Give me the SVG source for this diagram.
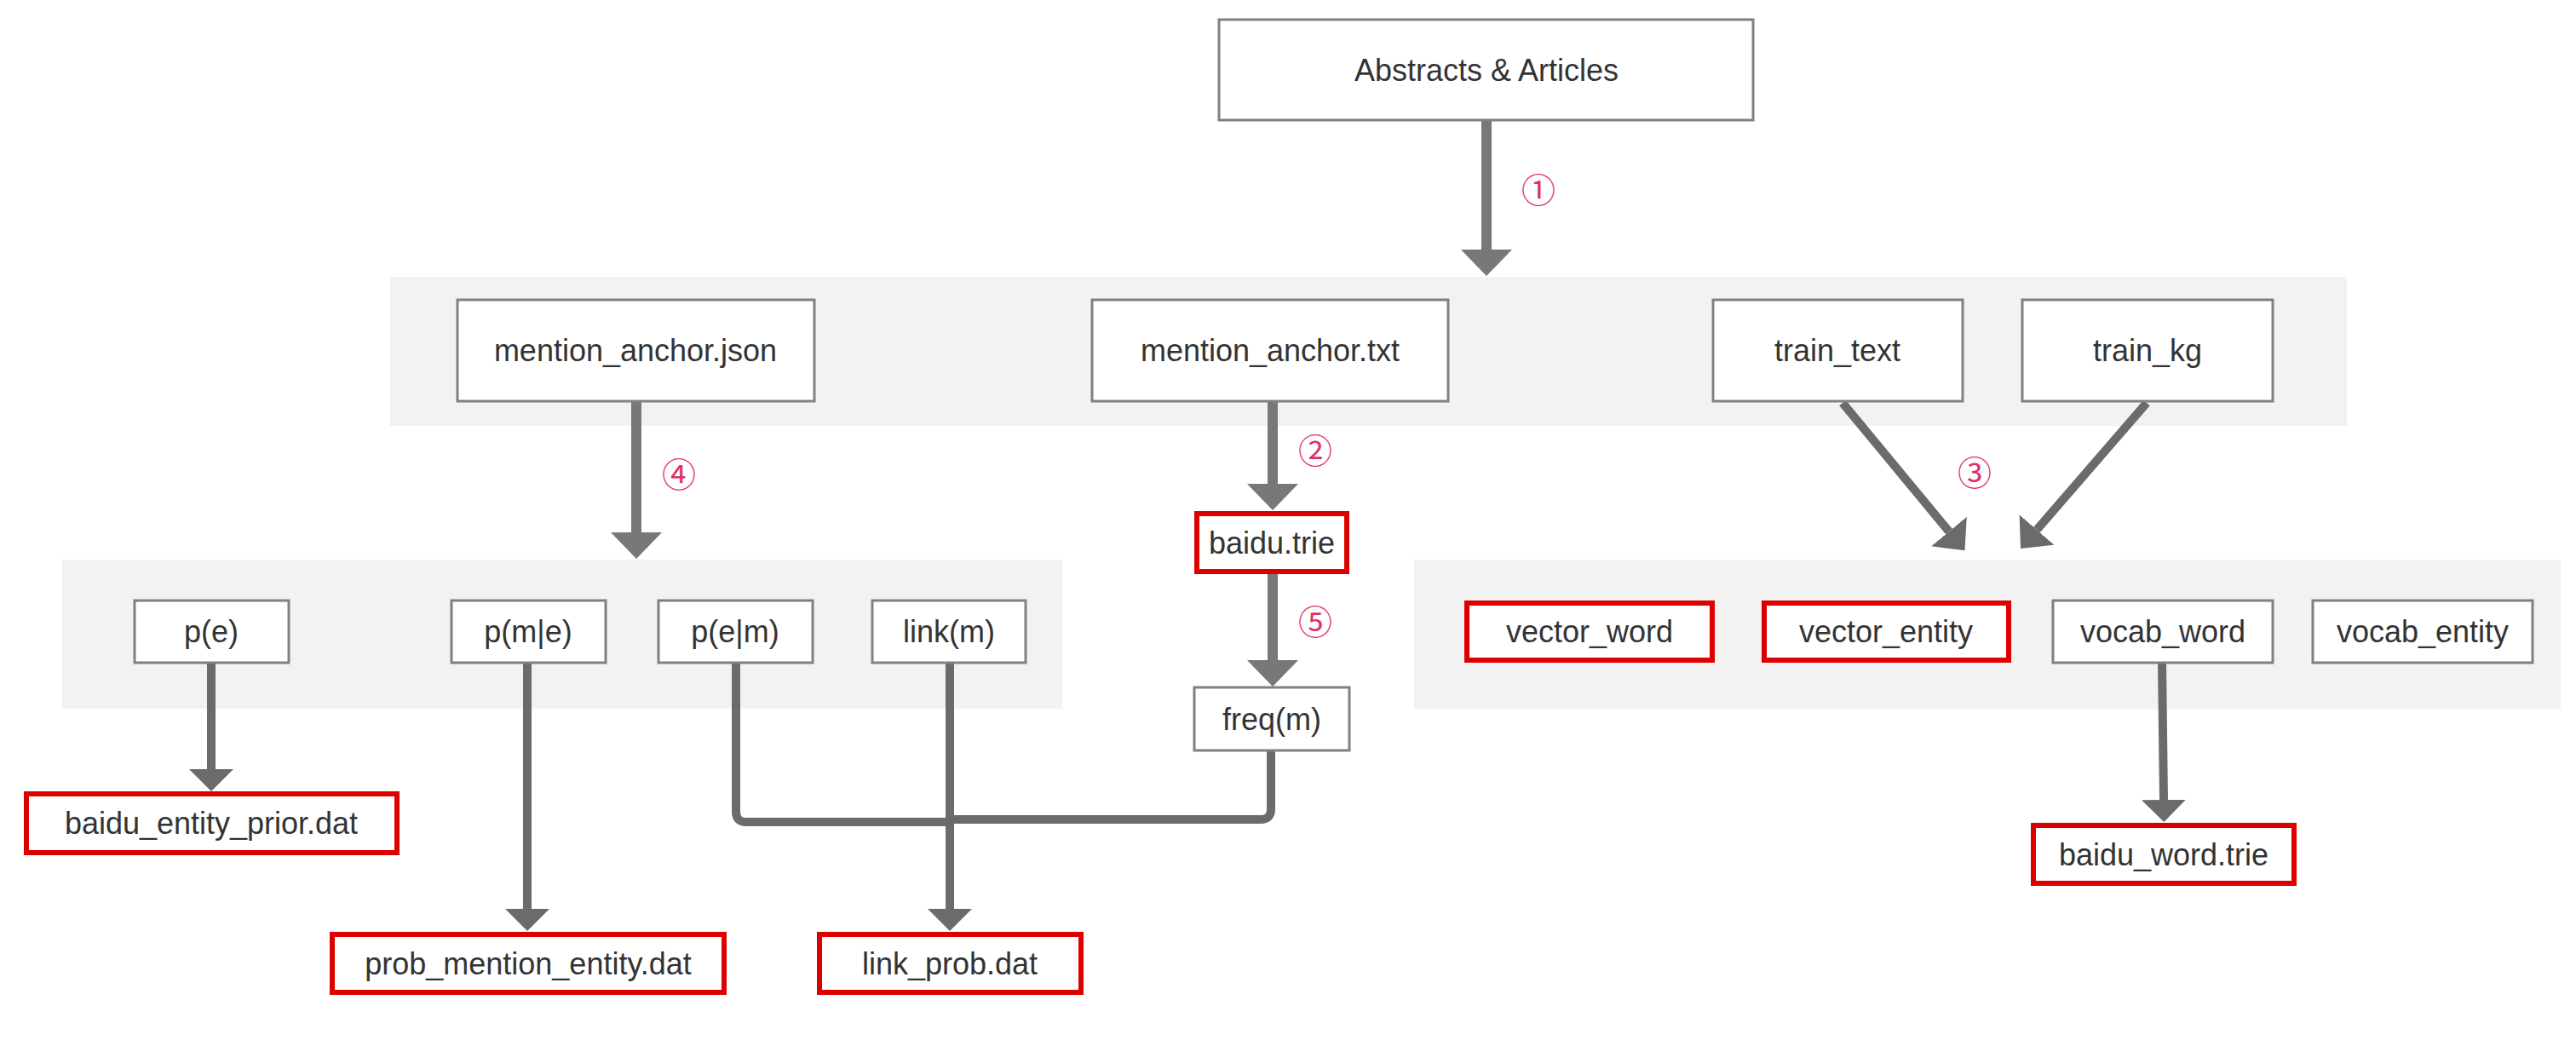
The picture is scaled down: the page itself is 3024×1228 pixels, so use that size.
<svg xmlns="http://www.w3.org/2000/svg" width="3024" height="1228" viewBox="0 0 3024 1228">
<style>
.grp{fill:#f2f2f2}
.box{fill:#fff;stroke:#808080;stroke-width:3}
.red{fill:#fff;stroke:#dd0000;stroke-width:6}
.t{font-family:"Liberation Sans",Arial,sans-serif;font-size:36px;fill:#333;text-anchor:middle;dominant-baseline:central}
.num{font-family:"Noto Sans CJK SC","DejaVu Sans",sans-serif;font-size:40px;fill:#e0306a;text-anchor:middle;dominant-baseline:central}
.thick{fill:none;stroke:#787878;stroke-width:12}
.thin{fill:none;stroke:#6b6b6b;stroke-width:10;stroke-linejoin:round}
</style>
<defs>
<marker id="ah1" markerUnits="userSpaceOnUse" viewBox="0 0 31 60" refX="0" refY="30" markerWidth="31" markerHeight="60" orient="auto"><path d="M0,0 L31,30 L0,60 z" fill="#787878"/></marker>
<marker id="ah2" markerUnits="userSpaceOnUse" viewBox="0 0 26 52" refX="0" refY="26" markerWidth="26" markerHeight="52" orient="auto"><path d="M0,0 L26,26 L0,52 z" fill="#6b6b6b"/></marker>
<marker id="ah3" markerUnits="userSpaceOnUse" viewBox="0 0 29 54" refX="0" refY="27" markerWidth="29" markerHeight="54" orient="auto"><path d="M0,0 L29,27 L0,54 z" fill="#6b6b6b"/></marker>
</defs>

<g id="groups">
<rect class="grp" x="458" y="325" width="2297" height="175"/>
<rect class="grp" x="73" y="657" width="1174" height="175"/>
<rect class="grp" x="1660" y="657" width="1346" height="176"/>
</g>

<g id="connectors">
<path class="thick" d="M1745 141 V293" marker-end="url(#ah1)"/>
<path class="thick" d="M1494 471 V568" marker-end="url(#ah1)"/>
<path class="thick" d="M747 471 V625" marker-end="url(#ah1)"/>
<path class="thick" d="M1494 674 V775" marker-end="url(#ah1)"/>
<path class="thin" d="M2163 473 L2288 624" marker-end="url(#ah3)"/>
<path class="thin" d="M2520 473 L2391 622" marker-end="url(#ah3)"/>
<path class="thin" d="M248 778 V903" marker-end="url(#ah2)"/>
<path class="thin" d="M619 778 V1067" marker-end="url(#ah2)"/>
<path class="thin" d="M864 778 V953 Q864 965 876 965 H1115"/>
<path class="thin" d="M1492 881 V950 Q1492 962 1480 962 H1115"/>
<path class="thin" d="M1115 778 V1067" marker-end="url(#ah2)"/>
<path class="thin" d="M2538 778 L2540 939" marker-end="url(#ah2)"/>
</g>

<g id="labels">
<text class="num" x="1806" y="221">①</text>
<text class="num" x="1544" y="527">②</text>
<text class="num" x="2318" y="553">③</text>
<text class="num" x="797" y="555">④</text>
<text class="num" x="1544" y="728">⑤</text>
</g>

<g id="n-abstracts"><rect class="box" x="1431" y="23" width="627" height="118"/><text class="t" x="1745" y="82">Abstracts &amp; Articles</text></g>
<g id="n-mention-json"><rect class="box" x="537" y="352" width="419" height="119"/><text class="t" x="746" y="411">mention_anchor.json</text></g>
<g id="n-mention-txt"><rect class="box" x="1282" y="352" width="418" height="119"/><text class="t" x="1491" y="411">mention_anchor.txt</text></g>
<g id="n-train-text"><rect class="box" x="2011" y="352" width="293" height="119"/><text class="t" x="2157" y="411">train_text</text></g>
<g id="n-train-kg"><rect class="box" x="2374" y="352" width="294" height="119"/><text class="t" x="2521" y="411">train_kg</text></g>

<g id="n-pe"><rect class="box" x="158" y="705" width="181" height="73"/><text class="t" x="248" y="741">p(e)</text></g>
<g id="n-pme"><rect class="box" x="530" y="705" width="181" height="73"/><text class="t" x="620" y="741">p(m|e)</text></g>
<g id="n-pem"><rect class="box" x="773" y="705" width="181" height="73"/><text class="t" x="863" y="741">p(e|m)</text></g>
<g id="n-link"><rect class="box" x="1024" y="705" width="180" height="73"/><text class="t" x="1114" y="741">link(m)</text></g>

<g id="n-baidu-trie"><rect class="red" x="1405" y="603" width="176" height="68"/><text class="t" x="1493" y="637">baidu.trie</text></g>
<g id="n-freq"><rect class="box" x="1402" y="807" width="182" height="74"/><text class="t" x="1493" y="844">freq(m)</text></g>

<g id="n-vector-word"><rect class="red" x="1722" y="708" width="288" height="67"/><text class="t" x="1866" y="741">vector_word</text></g>
<g id="n-vector-entity"><rect class="red" x="2071" y="708" width="287" height="67"/><text class="t" x="2214" y="741">vector_entity</text></g>
<g id="n-vocab-word"><rect class="box" x="2410" y="705" width="258" height="73"/><text class="t" x="2539" y="741">vocab_word</text></g>
<g id="n-vocab-entity"><rect class="box" x="2715" y="705" width="258" height="73"/><text class="t" x="2844" y="741">vocab_entity</text></g>

<g id="n-entity-prior"><rect class="red" x="31" y="932" width="435" height="69"/><text class="t" x="248" y="966">baidu_entity_prior.dat</text></g>
<g id="n-prob-mention"><rect class="red" x="390" y="1097" width="460" height="68"/><text class="t" x="620" y="1131">prob_mention_entity.dat</text></g>
<g id="n-link-prob"><rect class="red" x="962" y="1097" width="307" height="68"/><text class="t" x="1115" y="1131">link_prob.dat</text></g>
<g id="n-word-trie"><rect class="red" x="2387" y="969" width="306" height="68"/><text class="t" x="2540" y="1003">baidu_word.trie</text></g>
</svg>
